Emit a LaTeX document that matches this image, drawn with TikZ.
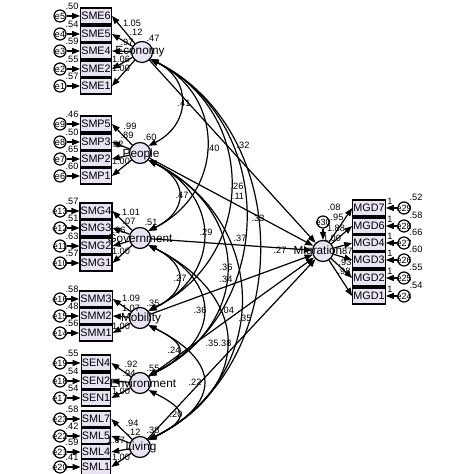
\documentclass[tikz,border=0pt]{standalone}
\usepackage{fontspec}
\setmainfont{Liberation Sans}
\usetikzlibrary{arrows.meta}
\definecolor{lavfill}{RGB}{233,227,243}

\tikzset{every picture/.style={line width=0.6pt}}
\tikzset{
	obs/.style={draw, fill=lavfill, rectangle, minimum width=13pt, minimum height=8pt, inner sep=0.3pt, font=\fontsize{5.4}{5.4}\selectfont},
	lat/.style={draw, fill=lavfill, circle, minimum size=10.5pt, inner sep=0pt},
	err/.style={draw, fill=white, circle, minimum size=6pt, inner sep=0pt},
	etxt/.style={inner sep=0pt, font=\fontsize{4.5}{4.5}\selectfont},
	ltxt/.style={inner sep=0pt, font=\fontsize{5.9}{5.9}\selectfont},
	num/.style={inner sep=0pt, font=\fontsize{4.6}{4.6}\selectfont},
	path/.style={-{Triangle[length=4pt,width=3pt]}},
	cov/.style={{Triangle[length=4pt,width=3pt]}-{Triangle[length=4pt,width=3pt]}}
}

\begin{document}
\begin{tikzpicture}[x=0.5pt,y=0.5pt,yscale=-1,xscale=1]
	\useasboundingbox (0,0) rectangle (474,474);

	% latent variables
	\node[lat] (Eco) at (142,52) {};
	\node[lat] (Peo) at (140,153) {};
	\node[lat] (Gov) at (140,238) {};
	\node[lat] (Mob) at (140,318) {};
	\node[lat] (Env) at (140,383) {};
	\node[lat] (Liv) at (140,447) {};
	\node[lat] (Mig) at (323,251) {};
	\node[err] (e30) at (323,222) {};

	% Economy
	\foreach \n/\e/\y/\v in {SME6/e5/16/.50, SME5/e4/34/.54, SME4/e3/51/.59, SME2/e2/69/.55, SME1/e1/86/.57}{
		\node[obs] (\n) at (96,\y) {\n};
		\node[err] (\e) at (60,\y) {};
		\node[etxt] (t\e) at (\e) {\e};
		\draw[path] (\e) -- (\n);
		\draw[path] (Eco) -- (\n.east);
		\node[num] (v\e) at (72,\y-10) {\v};
	}
	% People
	\foreach \n/\e/\y/\v in {SMP5/e9/124/.46, SMP3/e8/142/.50, SMP2/e7/159/.65, SMP1/e6/176/.60}{
		\node[obs] (\n) at (96,\y) {\n};
		\node[err] (\e) at (60,\y) {};
		\node[etxt] (t\e) at (\e) {\e};
		\draw[path] (\e) -- (\n);
		\draw[path] (Peo) -- (\n.east);
		\node[num] (v\e) at (72,\y-10) {\v};
	}
	% Government
	\foreach \n/\e/\y/\v in {SMG4/e13/211/.57, SMG3/e12/228/.51, SMG2/e11/246/.63, SMG1/e10/263/.57}{
		\node[obs] (\n) at (96,\y) {\n};
		\node[err] (\e) at (60,\y) {};
		\node[etxt] (t\e) at (\e) {\e};
		\draw[path] (\e) -- (\n);
		\draw[path] (Gov) -- (\n.east);
		\node[num] (v\e) at (72,\y-10) {\v};
	}
	% Mobility
	\foreach \n/\e/\y/\v in {SMM3/e16/299/.58, SMM2/e15/316/.48, SMM1/e14/333/.56}{
		\node[obs] (\n) at (96,\y) {\n};
		\node[err] (\e) at (60,\y) {};
		\node[etxt] (t\e) at (\e) {\e};
		\draw[path] (\e) -- (\n);
		\draw[path] (Mob) -- (\n.east);
		\node[num] (v\e) at (72,\y-10) {\v};
	}
	% Environment
	\foreach \n/\e/\y/\v in {SEN4/e19/363/.55, SEN2/e18/381/.54, SEN1/e17/398/.54}{
		\node[obs] (\n) at (96,\y) {\n};
		\node[err] (\e) at (60,\y) {};
		\node[etxt] (t\e) at (\e) {\e};
		\draw[path] (\e) -- (\n);
		\draw[path] (Env) -- (\n.east);
		\node[num] (v\e) at (72,\y-10) {\v};
	}
	% Living
	\foreach \n/\e/\y/\v in {SML7/e23/419/.58, SML5/e22/436/.42, SML4/e21/452/.59, SML1/e20/467/.41}{
		\node[obs] (\n) at (96,\y) {\n};
		\node[err] (\e) at (60,\y) {};
		\node[etxt] (t\e) at (\e) {\e};
		\draw[path] (\e) -- (\n);
		\draw[path] (Liv) -- (\n.east);
		\node[num] (v\e) at (72,\y-10) {\v};
	}
	% Migration
	\foreach \n/\e/\y/\v in {MGD7/e29/208/.52, MGD6/e28/226/.58, MGD4/e27/243/.66, MGD3/e26/260/.60, MGD2/e25/278/.55, MGD1/e24/296/.54}{
		\node[obs] (\n) at (369,\y) {\n};
		\node[err] (\e) at (404,\y) {};
		\node[etxt] (t\e) at (\e) {\e};
		\draw[path] (\e) -- (\n);
		\draw[path] (Mig) -- (\n.west);
		\node[num] (v\e) at (416,\y-11) {\v};
		\node[num] (o\e) at (390,\y-7) {1};
	}

	% latent names
	\node[ltxt] (nEco) at (140,52) {Economy};
	\node[ltxt] (nPeo) at (141,154) {People};
	\node[ltxt] (nGov) at (140,238) {Government};
	\node[ltxt] (nMob) at (141,318) {Mobility};
	\node[ltxt] (nEnv) at (143,383) {Environment};
	\node[ltxt] (nLiv) at (141,447) {Living};
	\node[ltxt] (nMig) at (318,251) {Migration};
	\node[etxt] (te30) at (e30) {e30};

	% structural paths
	\draw[path] (e30) -- (Mig);
	\foreach \a in {Eco,Peo,Gov,Mob,Env,Liv}
		\draw[path] (\a) -- (Mig);

	% covariances
	\foreach \a/\b/\k in {Eco/Peo/42, Eco/Gov/76, Eco/Mob/108, Eco/Env/128, Eco/Liv/146,
		Peo/Gov/40, Peo/Mob/73, Peo/Env/104, Peo/Liv/123,
		Gov/Mob/40, Gov/Env/73, Gov/Liv/104,
		Mob/Env/40, Mob/Liv/73, Env/Liv/40}
		\draw[cov] (\a.-40) .. controls +(\k,0.5*\k) and +(\k,-0.5*\k) .. (\b.40);

	% estimates
	\foreach \x/\y/\t [count=\i] in {153/38/.47, 150/137/.60, 151/222/.51, 153/303/.35, 153/368/.55, 153/430/.38, 334/207/.08,
		132/23/1.05, 136/32/.12, 127/42/.97, 121/59/1.06, 121/68/1.00,
		130/126/.99, 127/135/.89, 117/144/.82, 121/161/1.00,
		131/212/1.01, 129/221/.07, 119/230/.96, 121/251/1.00,
		131/298/1.09, 131/308/1.07, 121/326/1.00,
		131/364/.92, 129/373/.94, 121/391/1.00,
		132/423/.94, 134/432/.12, 116/440/1.07, 121/457/1.00,
		337/217/.95, 336/228/1.88, 332/238/1.00, 346/251/.87, 345/262/.93, 344/271/.98,
		184/103/.41, 213/148/.40, 243/145/.32, 237/186/.26, 238/196/.11, 182/195/.47,
		206/232/.29, 240/238/.37, 226/267/.36, 226/279/.34, 180/278/.27, 200/310/.36,
		226/310/-.04, 245/318/.35, 174/350/.24, 212/343/.35, 225/343/.38, 195/382/.22,
		176/414/.20, 258/218/.33, 280/250/.27}
		\node[num] (est\i) at (\x,\y) {\t};

\end{tikzpicture}
\end{document}
